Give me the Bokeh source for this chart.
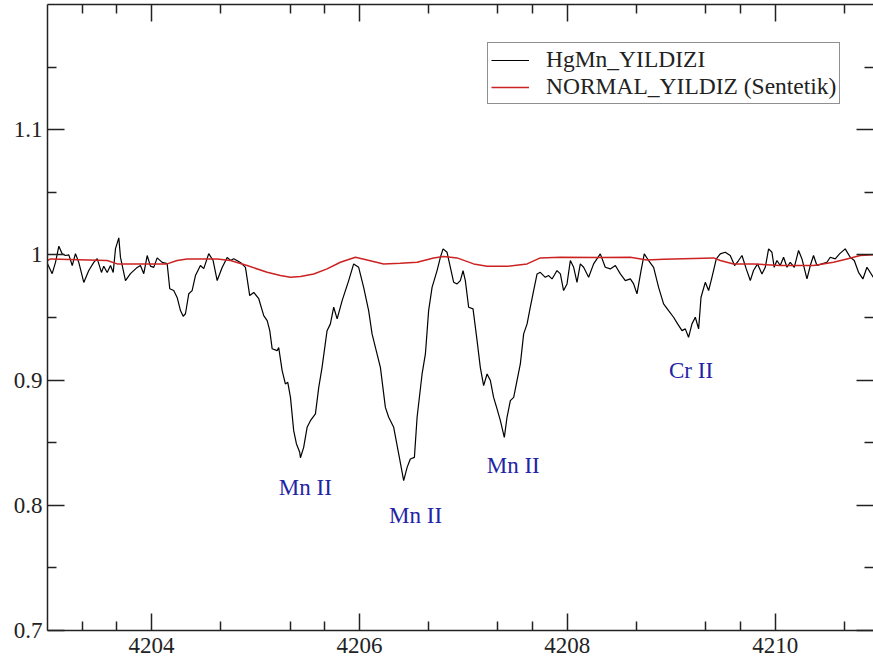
from bokeh.plotting import figure
from bokeh.models import (ColumnDataSource, FixedTicker, LinearAxis, Legend, LegendItem, Range1d)
from bokeh.core.properties import value
from bokeh.embed import file_html
from bokeh.resources import INLINE

# ---------------- data ----------------
hgmn_wave = [4203.000, 4203.045, 4203.077, 4203.109, 4203.141, 4203.173, 4203.205, 4203.238, 4203.269, 4203.301,
             4203.349, 4203.397, 4203.445, 4203.478, 4203.519, 4203.541, 4203.574, 4203.606, 4203.632, 4203.654,
             4203.686, 4203.702, 4203.750, 4203.798, 4203.863, 4203.894, 4203.926, 4203.959, 4203.990, 4204.022,
             4204.055, 4204.103, 4204.151, 4204.176, 4204.214, 4204.247, 4204.279, 4204.305, 4204.327, 4204.359,
             4204.391, 4204.423, 4204.471, 4204.503, 4204.551, 4204.593, 4204.632, 4204.680, 4204.728, 4204.760,
             4204.791, 4204.856, 4204.904, 4204.945, 4204.984, 4205.032, 4205.080, 4205.113, 4205.138, 4205.161,
             4205.209, 4205.224, 4205.257, 4205.288, 4205.311, 4205.337, 4205.368, 4205.394, 4205.426, 4205.433,
             4205.464, 4205.497, 4205.529, 4205.577, 4205.609, 4205.641, 4205.689, 4205.721, 4205.753, 4205.786,
             4205.834, 4205.897, 4205.945, 4205.993, 4206.041, 4206.089, 4206.122, 4206.154, 4206.202, 4206.250,
             4206.282, 4206.330, 4206.378, 4206.426, 4206.459, 4206.490, 4206.529, 4206.555, 4206.603, 4206.635,
             4206.666, 4206.699, 4206.747, 4206.779, 4206.805, 4206.843, 4206.875, 4206.907, 4206.939, 4206.971,
             4206.997, 4207.019, 4207.051, 4207.093, 4207.132, 4207.163, 4207.195, 4207.228, 4207.260, 4207.291,
             4207.324, 4207.356, 4207.394, 4207.420, 4207.452, 4207.484, 4207.516, 4207.548, 4207.580, 4207.613,
             4207.644, 4207.676, 4207.709, 4207.740, 4207.788, 4207.820, 4207.853, 4207.901, 4207.933, 4207.964,
             4207.997, 4208.029, 4208.061, 4208.093, 4208.125, 4208.157, 4208.205, 4208.253, 4208.317, 4208.365,
             4208.413, 4208.462, 4208.510, 4208.558, 4208.606, 4208.638, 4208.670, 4208.709, 4208.740, 4208.782,
             4208.830, 4208.878, 4208.926, 4208.974, 4209.022, 4209.061, 4209.103, 4209.135, 4209.166, 4209.199,
             4209.231, 4209.263, 4209.286, 4209.327, 4209.359, 4209.391, 4209.433, 4209.471, 4209.519, 4209.567,
             4209.609, 4209.647, 4209.680, 4209.721, 4209.760, 4209.791, 4209.830, 4209.872, 4209.904, 4209.936,
             4209.968, 4209.990, 4210.016, 4210.048, 4210.080, 4210.113, 4210.144, 4210.183, 4210.224, 4210.257,
             4210.305, 4210.337, 4210.368, 4210.401, 4210.449, 4210.497, 4210.529, 4210.577, 4210.618, 4210.673,
             4210.721, 4210.760, 4210.801, 4210.843, 4210.882, 4210.913, 4210.942]
hgmn_flux = [0.993, 0.985, 0.994, 1.007, 1.001, 0.9995, 1.000, 0.9915, 1.001, 0.994,
             0.978, 0.9875, 0.994, 0.997, 0.986, 0.991, 0.986, 0.9915, 0.986, 1.005,
             1.0136, 0.998, 0.9795, 0.985, 0.990, 0.9915, 0.985, 0.9995, 0.991, 0.990,
             0.9976, 0.994, 0.993, 0.973, 0.9715, 0.966, 0.9555, 0.951, 0.953, 0.969,
             0.9715, 0.9835, 0.9915, 0.989, 1.001, 0.9955, 0.9795, 0.990, 0.998, 0.9955,
             0.997, 0.994, 0.990, 0.9675, 0.970, 0.965, 0.9515, 0.9475, 0.9395, 0.925,
             0.9235, 0.926, 0.9076, 0.8969, 0.8982, 0.8862, 0.8596, 0.8492, 0.8423, 0.838,
             0.8463, 0.8623, 0.8676, 0.8730, 0.8942, 0.9102, 0.9395, 0.9449, 0.9582, 0.9489,
             0.9635, 0.9795, 0.9928, 0.9901, 0.9741, 0.9555, 0.9369, 0.9262, 0.9102, 0.8782,
             0.8703, 0.8623, 0.8410, 0.8197, 0.8303, 0.8370, 0.8383, 0.8703, 0.9049, 0.9209,
             0.9555, 0.9741, 0.9875, 0.9981, 1.0048, 1.0021, 0.9901, 0.9781, 0.9768, 0.9795,
             0.9875, 0.9795, 0.9582, 0.9569, 0.9315, 0.9102, 0.8956, 0.9049, 0.8996, 0.8862,
             0.8770, 0.8676, 0.8543, 0.8703, 0.8836, 0.8862, 0.8996, 0.9129, 0.9369, 0.9449,
             0.9582, 0.9715, 0.9848, 0.9861, 0.9821, 0.9835, 0.9808, 0.9875, 0.9848, 0.9715,
             0.9768, 0.9955, 0.9901, 0.9781, 0.9928, 0.9901, 0.9821, 0.9928, 1.0008, 0.9901,
             0.9888, 0.9915, 0.9848, 0.9795, 0.9808, 0.9768, 0.9689, 0.9875, 1.0008, 0.9955,
             0.9901, 0.9741, 0.9609, 0.9555, 0.9502, 0.9449, 0.9395, 0.9409, 0.9342, 0.9449,
             0.9502, 0.9409, 0.9662, 0.9781, 0.9715, 0.9821, 0.9968, 1.0008, 1.0021, 0.9995,
             0.9915, 0.9955, 0.9995, 0.9888, 0.9795, 0.9875, 0.9928, 0.9848, 0.9901, 1.0048,
             1.0021, 0.9901, 0.9955, 0.9915, 0.9981, 0.9901, 0.9941, 0.9901, 1.0035, 0.9968,
             0.9808, 0.9915, 0.9995, 0.9915, 0.9928, 0.9941, 0.9981, 0.9968, 1.0008, 1.0048,
             0.9981, 0.9955, 0.9861, 0.9808, 0.9901, 0.9861, 0.9821]

normal_wave = [4203.000, 4203.029, 4203.574, 4203.670, 4204.151, 4204.247, 4204.343, 4204.632, 4204.760, 4204.920,
               4205.113, 4205.240, 4205.337, 4205.433, 4205.561, 4205.689, 4205.817, 4205.962, 4206.074, 4206.234,
               4206.394, 4206.555, 4206.714, 4206.811, 4206.939, 4207.099, 4207.228, 4207.420, 4207.613, 4207.740,
               4207.933, 4208.317, 4208.606, 4208.766, 4208.926, 4209.407, 4209.471, 4209.599, 4209.791, 4210.048,
               4210.368, 4210.560, 4210.689, 4210.817, 4210.942]
normal_flux = [0.9955, 0.9968, 0.9955, 0.9928, 0.9928, 0.9955, 0.9968, 0.9968, 0.9955, 0.9915,
               0.9861, 0.9835, 0.9821, 0.9827, 0.9848, 0.9888, 0.9941, 0.9981, 0.9960, 0.9928,
               0.9933, 0.9941, 0.9976, 0.9987, 0.9976, 0.9928, 0.9909, 0.9909, 0.9928, 0.9976,
               0.9981, 0.9980, 0.9981, 0.9960, 0.9965, 0.9976, 0.9955, 0.9928, 0.9928, 0.9915,
               0.9915, 0.9941, 0.9968, 0.9995, 1.0001]

line_labels = ["Mn II", "Mn II", "Mn II", "Cr II"]
label_wave = [4205.48, 4206.54, 4207.48, 4209.19]
label_flux = [0.814, 0.792, 0.832, 0.908]

series_names = ["HgMn_YILDIZI", "NORMAL_YILDIZ (Sentetik)"]

x_major = [4204, 4206, 4208, 4210]
x_minor = [4203.333, 4203.667, 4204.667, 4205.333, 4205.667, 4206.667, 4207.333, 4207.667,
           4208.667, 4209.333, 4209.667, 4210.667]
y_major = [0.7, 0.8, 0.9, 1.0, 1.1]
y_minor = [0.75, 0.85, 0.95, 1.05, 1.15]

# ---------------- figure ----------------
FONT = "Liberation Serif"
p = figure(width=873, height=664, output_backend="svg", toolbar_location=None,
           x_range=Range1d(4203.0, 4210.945), y_range=Range1d(0.7, 1.2),
           x_axis_type=None, y_axis_type=None,
           min_border_left=47, min_border_right=0, min_border_top=4, min_border_bottom=34)
p.outline_line_color = None
p.background_fill_color = "white"
p.border_fill_color = "white"
p.xgrid.visible = False
p.ygrid.visible = False

xt = FixedTicker(ticks=x_major, minor_ticks=x_minor)
yt = FixedTicker(ticks=y_major, minor_ticks=y_minor)

def style(ax, labels=True):
    ax.axis_line_color = "#222222"
    ax.axis_line_width = 1.5
    ax.major_tick_line_color = "#222222"
    ax.major_tick_line_width = 1.5
    ax.minor_tick_line_color = "#222222"
    ax.minor_tick_line_width = 1.5
    ax.major_tick_in = 17
    ax.major_tick_out = 0
    ax.minor_tick_in = 9
    ax.minor_tick_out = 0
    if labels:
        ax.major_label_text_font = FONT
        ax.major_label_text_font_size = "23px"
        ax.major_label_text_color = "#222222"
    else:
        ax.major_label_text_font_size = "1px"
        ax.major_label_text_color = None
        ax.major_label_standoff = 0

bottom = LinearAxis(ticker=xt)
style(bottom)
bottom.major_label_standoff = 7
p.add_layout(bottom, "below")

left = LinearAxis(ticker=yt, major_label_overrides={1: "1"})
style(left)
left.major_label_standoff = 5
p.add_layout(left, "left")

top = LinearAxis(ticker=xt)
style(top, labels=False)
p.add_layout(top, "above")

right = LinearAxis(ticker=yt)
style(right, labels=False)
right.axis_line_color = None
p.add_layout(right, "right")

hg = p.line(hgmn_wave, hgmn_flux, line_color="black", line_width=1.2)
nm = p.line(normal_wave, normal_flux, line_color="#cc2222", line_width=1.5)

src = ColumnDataSource(dict(x=label_wave, y=label_flux, t=line_labels))
p.text(x="x", y="y", text="t", source=src, text_align="center", text_baseline="middle",
       text_font=value(FONT), text_font_size="23px", text_color="#2323a5")

legend = Legend(items=[LegendItem(label=series_names[0], renderers=[hg]),
                       LegendItem(label=series_names[1], renderers=[nm])],
                location=(440, 526))
legend.label_text_font = FONT
legend.label_text_font_size = "23.5px"
legend.label_text_color = "#222222"
legend.glyph_width = 38
legend.glyph_height = 18
legend.label_height = 18
legend.label_standoff = 17
legend.spacing = -9
legend.padding = 3
legend.margin = 0
legend.border_line_color = "#222222"
legend.border_line_width = 1.5
legend.background_fill_color = "white"
legend.background_fill_alpha = 1.0
p.add_layout(legend)

open("out.html", "w").write(file_html(p, INLINE))
